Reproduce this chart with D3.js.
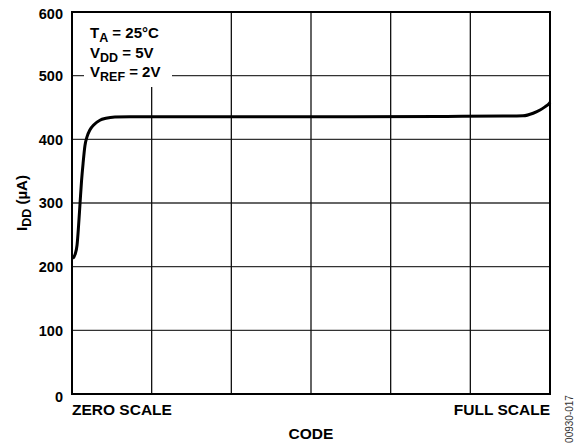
<!DOCTYPE html>
<html>
  <head>
    <script src="https://d3js.org/d3.v7.min.js"></script>
    <style>
      body { margin: 0; background: #fff; }
      text { font-family: "Liberation Sans", Arial, sans-serif; }
    </style>
  </head>
  <body>
    <div id="chart"></div>
    <script>
      // values (8-bit code vs supply current)
      var codes = [0.4, 1.6, 2.7, 3.5, 4.3, 5.1, 5.9, 6.9, 8.0, 9.6, 11.7, 14.9, 18.1, 22.9, 31, 60, 100, 150, 200, 230, 240.6, 246, 249.7, 252.3, 254.5, 255];
      var idd   = [213, 219, 234, 264, 300, 335, 362, 390, 404, 415, 423, 430, 433, 435, 435.5, 435.5, 435.5, 435.5, 436, 436.5, 437, 441, 446, 451, 456, 458];
      var yTicks = [0, 100, 200, 300, 400, 500, 600];
      var xGrid = [0, 1, 2, 3, 4, 5, 6]; // grid divisions across the code range
      var notes = [["T", "A", " = 25°C"], ["V", "DD", " = 5V"], ["V", "REF", " = 2V"]];

      var width = 581, height = 446;
      var margin = { left: 72, top: 12, right: 31, bottom: 52 };
      var w = width - margin.left - margin.right;
      var h = height - margin.top - margin.bottom;

      var svg = d3.select("#chart").append("svg")
        .attr("width", width)
        .attr("height", height);

      var g = svg.append("g")
        .attr("transform", "translate(" + margin.left + "," + margin.top + ")");

      var x = d3.scaleLinear().domain([0, 255]).range([0, w]);
      var y = d3.scaleLinear().domain([0, 600]).range([h, 0]);

      // grid
      g.selectAll(".hgrid")
        .data(yTicks)
        .enter().append("line")
        .attr("x1", 0).attr("x2", w)
        .attr("y1", function(d) { return y(d); })
        .attr("y2", function(d) { return y(d); })
        .style("stroke", "#333")
        .style("stroke-width", 1.3);

      g.selectAll(".vgrid")
        .data(xGrid)
        .enter().append("line")
        .attr("x1", function(d) { return x(d * 255 / 6); })
        .attr("x2", function(d) { return x(d * 255 / 6); })
        .attr("y1", 0).attr("y2", h)
        .style("stroke", "#111")
        .style("stroke-width", 1.3);

      // y tick labels
      g.selectAll(".ylab")
        .data(yTicks)
        .enter().append("text")
        .attr("x", -9)
        .attr("y", function(d) { return y(d) + (d === 600 ? 2 : d === 0 ? 3 : 0); })
        .attr("dy", "0.36em")
        .attr("text-anchor", "end")
        .style("font-size", "14.5px")
        .style("font-weight", "bold")
        .text(function(d) { return d; });

      // legend box over the grid
      g.append("rect")
        .attr("x", 12).attr("y", 1)
        .attr("width", 88).attr("height", 74)
        .style("fill", "#fff");

      var note = g.append("g");
      notes.forEach(function(n, i) {
        var t = note.append("text")
          .attr("x", 18)
          .attr("y", 26 + i * 19.5)
          .style("font-size", "15px")
          .style("font-weight", "bold");
        t.append("tspan").text(n[0]);
        t.append("tspan").attr("dy", 4).style("font-size", "12.5px").text(n[1]);
        t.append("tspan").attr("dy", -4).text(n[2]);
      });

      // curve
      var line = d3.line()
        .x(function(d) { return x(d[0]); })
        .y(function(d) { return y(d[1]); })
        .curve(d3.curveMonotoneX);

      g.append("path")
        .datum(d3.zip(codes, idd))
        .attr("d", line)
        .style("fill", "none")
        .style("stroke", "#000")
        .style("stroke-width", 3)
        .style("stroke-linejoin", "round");

      // frame
      g.append("rect")
        .attr("width", w).attr("height", h)
        .style("fill", "none")
        .style("stroke", "#000")
        .style("stroke-width", 2);

      // axis labels
      g.append("text")
        .attr("x", 0).attr("y", h + 21)
        .style("font-size", "15.5px").style("font-weight", "bold")
        .text("ZERO SCALE");

      g.append("text")
        .attr("x", w).attr("y", h + 21)
        .attr("text-anchor", "end")
        .style("font-size", "15.5px").style("font-weight", "bold")
        .text("FULL SCALE");

      g.append("text")
        .attr("x", w / 2).attr("y", h + 45)
        .attr("text-anchor", "middle")
        .style("font-size", "15.5px").style("font-weight", "bold")
        .text("CODE");

      var yt = svg.append("text")
        .attr("transform", "translate(27,203) rotate(-90)")
        .attr("text-anchor", "middle")
        .style("font-size", "15px").style("font-weight", "bold");
      yt.append("tspan").text("I");
      yt.append("tspan").attr("dy", 4).style("font-size", "12.5px").text("DD");
      yt.append("tspan").attr("dy", -4).text(" (µA)");

      svg.append("text")
        .attr("transform", "translate(573,419) rotate(-90)")
        .attr("text-anchor", "middle")
        .style("font-size", "10px")
        .style("fill", "#333")
        .text("00930-017");
    </script>
  </body>
</html>
